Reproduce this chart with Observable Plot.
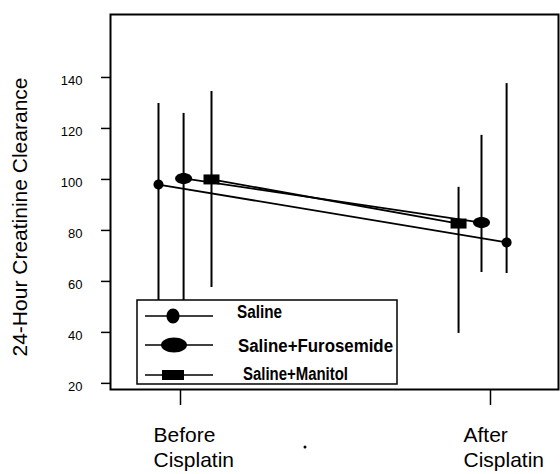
<!DOCTYPE html>
<html>
<head>
<meta charset="utf-8">
<script src="https://cdn.jsdelivr.net/npm/d3@7"></script>
<script src="https://cdn.jsdelivr.net/npm/@observablehq/plot@0.6"></script>
<style>
  html, body { margin: 0; padding: 0; background: white; }
</style>
</head>
<body>
<div id="chart"></div>
<script>
// ---- data ----
const seriesNames = ["Saline", "Saline+Furosemide", "Saline+Manitol"];
const phaseLabels = ["Before\nCisplatin", "After\nCisplatin"];
const phaseIndex = [0, 1];
const yTicks = [20, 40, 60, 80, 100, 120, 140];

const salineMean = [98.0, 75.3];
const salineLow  = [45, 63.1];
const salineHigh = [129.8, 137.6];

const furoMean = [100.4, 83.1];
const furoLow  = [45, 63.5];
const furoHigh = [125.9, 117.3];

const manMean = [100.0, 82.7];
const manLow  = [57.6, 39.6];
const manHigh = [134.5, 96.9];

// horizontal dodge of each series within a phase (x units)
const salineDodge = [-0.071, 0.052];
const furoDodge   = [0.010, -0.029];
const manDodge    = [0.100, -0.103];

const table = [];
[[salineMean, salineLow, salineHigh, salineDodge],
 [furoMean, furoLow, furoHigh, furoDodge],
 [manMean, manLow, manHigh, manDodge]].forEach(([m, lo, hi, dg], s) => {
  phaseIndex.forEach(p => {
    table.push({series: seriesNames[s], phase: p, x: p + dg[p], y: m[p], lo: lo[p], hi: hi[p]});
  });
});

// ---- symbols ----
function ellipseSymbol(rx, ry) {
  return {
    draw(c) {
      const kx = rx * 0.5523, ky = ry * 0.5523;
      c.moveTo(rx, 0);
      c.bezierCurveTo(rx, ky, kx, ry, 0, ry);
      c.bezierCurveTo(-kx, ry, -rx, ky, -rx, 0);
      c.bezierCurveTo(-rx, -ky, -kx, -ry, 0, -ry);
      c.bezierCurveTo(kx, -ry, rx, -ky, rx, 0);
      c.closePath();
    }
  };
}
function rectSymbol(w, h) {
  return { draw(c) { c.rect(-w / 2, -h / 2, w, h); } };
}
const symbols = {
  "Saline": ellipseSymbol(5, 5),
  "Saline+Furosemide": ellipseSymbol(8.5, 5.5),
  "Saline+Manitol": rectSymbol(16, 10)
};

const font = "'Liberation Sans', Arial, Helvetica, sans-serif";

const chart = Plot.plot({
  width: 560,
  height: 474,
  marginLeft: 110,
  marginRight: 2,
  marginTop: 14,
  marginBottom: 85,
  style: { fontFamily: font, background: "white", color: "black" },
  x: { type: "linear", domain: [-0.2258, 1.2194] },
  y: { type: "linear", domain: [17.6, 164.7] },
  marks: [
    Plot.frame({ stroke: "black", strokeWidth: 2 }),
    Plot.axisY({ ticks: yTicks, tickSize: 9, fill: "none", strokeWidth: 1.5, label: null }),
    Plot.axisY({ ticks: yTicks, tickSize: 0, tickPadding: 28, dy: 3, fontSize: 13, label: null }),
    Plot.axisX({ ticks: phaseIndex, tickSize: 16, fill: "none", strokeWidth: 1.5, label: null }),
    Plot.text(phaseIndex, {
      x: d => d, text: d => phaseLabels[d], frameAnchor: "bottom",
      dy: 35, dx: -27, textAnchor: "start", lineAnchor: "top",
      fontSize: 21, lineHeight: 1.19, fill: "black"
    }),
    Plot.text(["24-Hour Creatinine Clearance"], {
      frameAnchor: "left", dx: -84, dy: 15, rotate: -90,
      textAnchor: "middle", lineAnchor: "bottom", fontSize: 21, fill: "black"
    }),
    Plot.line(table, { x: "x", y: "y", z: "series", stroke: "black", strokeWidth: 1.8 }),
    Plot.ruleX(table, { x: "x", y1: "lo", y2: "hi", stroke: "black", strokeWidth: 2 }),
    ...seriesNames.map(s => Plot.dot(table.filter(d => d.series === s), {
      x: "x", y: "y", symbol: symbols[s], fill: "black", stroke: "none", r: 5
    }))
  ]
});

document.getElementById("chart").appendChild(chart);

// ---- legend (inside the plot frame, opaque) ----
const svg = d3.select(chart);
const lg = svg.append("g").attr("text-anchor", "start");
lg.append("rect").attr("x", 137).attr("y", 300).attr("width", 260).attr("height", 84)
  .attr("fill", "white").attr("stroke", "black").attr("stroke-width", 1.5);
const rows = [
  { name: seriesNames[0], y: 316, mx: 173, tx: 237, ty: 318, w: 45, sym: ellipseSymbol(6.5, 7.5) },
  { name: seriesNames[1], y: 345, mx: 174, tx: 238, ty: 352, w: 155, sym: ellipseSymbol(13, 7.5) },
  { name: seriesNames[2], y: 375, mx: 173, tx: 243, ty: 380, w: 105, sym: rectSymbol(22, 10) }
];
rows.forEach(r => {
  lg.append("line").attr("x1", 145).attr("x2", 213).attr("y1", r.y).attr("y2", r.y)
    .attr("stroke", "black").attr("stroke-width", 1.5);
  const p = d3.path();
  r.sym.draw(p);
  lg.append("path").attr("d", p.toString()).attr("transform", `translate(${r.mx},${r.y})`)
    .attr("fill", "black");
  lg.append("text").attr("x", r.tx).attr("y", r.ty).text(r.name)
    .attr("text-anchor", "start")
    .attr("font-family", font).attr("font-size", 18).attr("font-weight", "bold").attr("fill", "black")
    .attr("textLength", r.w).attr("lengthAdjust", "spacingAndGlyphs");
});
// small stray dot from the original scan
svg.append("circle").attr("cx", 305).attr("cy", 447).attr("r", 1.5).attr("fill", "black");
</script>
</body>
</html>
